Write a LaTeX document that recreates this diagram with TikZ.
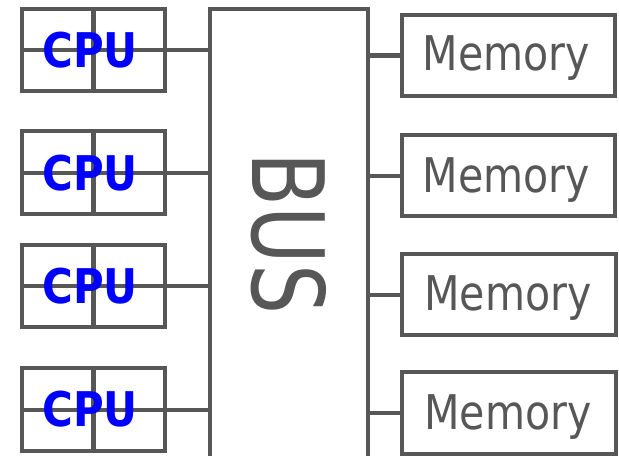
\documentclass[tikz,border=0pt]{standalone}
\usepackage{fontspec}
\setmainfont{DejaVu Sans}
\usepackage{xcolor}
\usepackage{tikz}
\usetikzlibrary{positioning}

\definecolor{wiregray}{HTML}{575757}
\definecolor{cpublue}{HTML}{0000FF}

\begin{document}
\begin{tikzpicture}[x=0.025cm, y=-0.025cm,
  cpubox/.style={rectangle, draw=wiregray, line width=2.85pt, inner sep=0pt,
    minimum width=3.575cm, minimum height=2.05cm},
  membox/.style={rectangle, draw=wiregray, line width=2.85pt, inner sep=0pt,
    minimum width=5.325cm, minimum height=2.025cm},
  busbox/.style={rectangle, draw=wiregray, line width=2.85pt, inner sep=0pt,
    minimum width=3.95cm, minimum height=11.525cm},
  wire/.style={draw=wiregray, line width=2.85pt},
  cpulabel/.style={anchor=base, inner sep=0pt, text=cpublue,
    font=\fontsize{34}{34}\selectfont\bfseries},
  memlabel/.style={anchor=base, inner sep=0pt, text=wiregray,
    font=\fontsize{34}{34}\selectfont},
  buslabel/.style={rotate=-90, inner sep=0pt, text=wiregray,
    font=\fontsize{71}{71}\selectfont},
]
  \clip (0,0) rectangle (619,455);

  % bus
  \node[busbox] (bus) at (289,239.5) {};
  \node[buslabel] (bustxt) at (288.5,233.5) {\scalebox{0.79}[1]{BUS}};

  % processors
  \node[cpubox] (cpu1) at (93.5,50)  {};
  \node[cpubox] (cpu2) at (93.5,172.5) {};
  \node[cpubox] (cpu3) at (93.5,286) {};
  \node[cpubox] (cpu4) at (93.5,409.5) {};

  \draw[wire] (cpu1.north) -- (cpu1.south) (cpu1.west) -- (cpu1.east);
  \draw[wire] (cpu2.north) -- (cpu2.south) (cpu2.west) -- (cpu2.east);
  \draw[wire] (cpu3.north) -- (cpu3.south) (cpu3.west) -- (cpu3.east);
  \draw[wire] (cpu4.north) -- (cpu4.south) (cpu4.west) -- (cpu4.east);

  \node[cpulabel] (cpu1txt) at (90,67)  {\scalebox{0.876}[1]{CPU}};
  \node[cpulabel] (cpu2txt) at (90,190) {\scalebox{0.876}[1]{CPU}};
  \node[cpulabel] (cpu3txt) at (90,303) {\scalebox{0.876}[1]{CPU}};
  \node[cpulabel] (cpu4txt) at (90,426) {\scalebox{0.876}[1]{CPU}};

  \draw[wire] (cpu1.east) -- (cpu1.east -| bus.west);
  \draw[wire] (cpu2.east) -- (cpu2.east -| bus.west);
  \draw[wire] (cpu3.east) -- (cpu3.east -| bus.west);
  \draw[wire] (cpu4.east) -- (cpu4.east -| bus.west);

  % memories
  \node[membox] (mem1) at (508.5,55.5)  {};
  \node[membox] (mem2) at (508.5,175.5) {};
  \node[membox] (mem3) at (509,294.5) {};
  \node[membox] (mem4) at (509,413)   {};

  \node[memlabel] (mem1txt) at (506.5,70)  {\scalebox{0.86}[1]{Memory}};
  \node[memlabel] (mem2txt) at (506.5,192) {\scalebox{0.86}[1]{Memory}};
  \node[memlabel] (mem3txt) at (508,310)   {\scalebox{0.86}[1]{Memory}};
  \node[memlabel] (mem4txt) at (508,429)   {\scalebox{0.86}[1]{Memory}};

  \draw[wire] (mem1.west) -- (mem1.west -| bus.east);
  \draw[wire] (mem2.west) -- (mem2.west -| bus.east);
  \draw[wire] (mem3.west) -- (mem3.west -| bus.east);
  \draw[wire] (mem4.west) -- (mem4.west -| bus.east);
\end{tikzpicture}
\end{document}
